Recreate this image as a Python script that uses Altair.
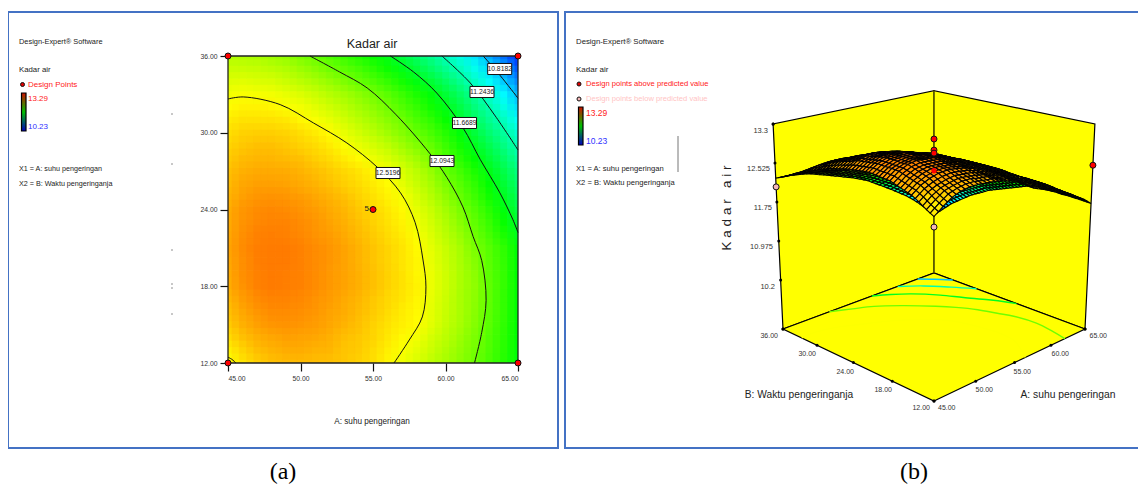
import altair as alt
import pandas as pd

# ---- values ----
A_VALUES = [45, 46, 47, 48, 49, 50, 51, 52, 53, 54, 55, 56, 57, 58, 59, 60, 61, 62, 63, 64, 65]
B_VALUES = [36, 35, 34, 33, 32, 31, 30, 29, 28, 27, 26, 25, 24, 23, 22, 21, 20, 19, 18, 17, 16, 15, 14, 13, 12]
KADAR = [
 [12.30,12.29,12.27,12.24,12.20,12.13,12.07,12.00,11.93,11.86,11.78,11.69,11.57,11.45,11.33,11.20,11.07,10.92,10.75,10.57,10.37],
 [12.36,12.36,12.35,12.32,12.29,12.23,12.17,12.10,12.04,11.97,11.89,11.80,11.69,11.58,11.46,11.33,11.20,11.05,10.88,10.71,10.51],
 [12.43,12.44,12.42,12.41,12.37,12.32,12.27,12.21,12.14,12.07,12.00,11.92,11.82,11.71,11.60,11.47,11.33,11.17,11.01,10.84,10.65],
 [12.49,12.51,12.50,12.49,12.46,12.42,12.37,12.31,12.25,12.18,12.11,12.03,11.94,11.84,11.73,11.60,11.46,11.30,11.14,10.98,10.79],
 [12.53,12.56,12.56,12.55,12.52,12.49,12.44,12.38,12.32,12.25,12.18,12.10,12.01,11.92,11.81,11.69,11.55,11.39,11.24,11.08,10.90],
 [12.58,12.61,12.61,12.61,12.59,12.55,12.51,12.46,12.39,12.32,12.25,12.17,12.09,11.99,11.90,11.78,11.64,11.49,11.33,11.19,11.01],
 [12.62,12.66,12.67,12.67,12.65,12.62,12.58,12.53,12.46,12.39,12.32,12.24,12.16,12.07,11.98,11.87,11.73,11.58,11.43,11.29,11.12],
 [12.65,12.69,12.71,12.71,12.69,12.66,12.63,12.58,12.52,12.46,12.40,12.33,12.24,12.15,12.06,11.94,11.81,11.67,11.52,11.37,11.21],
 [12.68,12.73,12.74,12.74,12.73,12.71,12.67,12.63,12.58,12.53,12.47,12.41,12.33,12.24,12.13,12.00,11.88,11.75,11.60,11.46,11.29],
 [12.71,12.76,12.78,12.78,12.77,12.75,12.72,12.68,12.64,12.60,12.55,12.50,12.41,12.32,12.21,12.07,11.96,11.84,11.69,11.54,11.38],
 [12.73,12.79,12.81,12.81,12.80,12.78,12.75,12.71,12.67,12.63,12.58,12.53,12.45,12.36,12.26,12.13,12.02,11.90,11.75,11.60,11.44],
 [12.75,12.81,12.84,12.85,12.84,12.82,12.79,12.75,12.71,12.66,12.61,12.56,12.50,12.41,12.31,12.19,12.07,11.95,11.81,11.66,11.50],
 [12.77,12.84,12.87,12.88,12.87,12.85,12.82,12.78,12.74,12.69,12.64,12.59,12.54,12.45,12.36,12.25,12.13,12.01,11.88,11.72,11.56],
 [12.78,12.85,12.88,12.89,12.89,12.87,12.84,12.80,12.76,12.71,12.66,12.61,12.56,12.48,12.39,12.29,12.17,12.05,11.93,11.78,11.62],
 [12.79,12.86,12.90,12.91,12.90,12.88,12.85,12.82,12.78,12.73,12.68,12.63,12.58,12.51,12.42,12.32,12.22,12.09,11.97,11.84,11.68],
 [12.80,12.87,12.91,12.92,12.92,12.90,12.87,12.84,12.80,12.75,12.70,12.65,12.60,12.54,12.45,12.36,12.26,12.13,12.02,11.90,11.74],
 [12.79,12.86,12.91,12.92,12.92,12.90,12.87,12.84,12.80,12.75,12.70,12.65,12.60,12.55,12.46,12.37,12.27,12.16,12.03,11.91,11.75],
 [12.78,12.86,12.90,12.92,12.91,12.90,12.87,12.83,12.80,12.76,12.71,12.66,12.61,12.55,12.47,12.38,12.28,12.18,12.04,11.92,11.76],
 [12.77,12.85,12.90,12.92,12.91,12.90,12.87,12.83,12.80,12.76,12.71,12.66,12.61,12.56,12.47,12.38,12.28,12.19,12.05,11.92,11.77],
 [12.74,12.82,12.87,12.89,12.89,12.88,12.85,12.82,12.78,12.74,12.69,12.64,12.60,12.55,12.46,12.37,12.27,12.18,12.05,11.91,11.77],
 [12.71,12.79,12.84,12.87,12.87,12.86,12.84,12.80,12.77,12.73,12.68,12.63,12.58,12.54,12.45,12.36,12.27,12.17,12.04,11.91,11.76],
 [12.68,12.76,12.81,12.84,12.85,12.84,12.82,12.79,12.75,12.71,12.66,12.61,12.57,12.53,12.44,12.35,12.26,12.16,12.03,11.90,11.76],
 [12.63,12.71,12.76,12.79,12.81,12.80,12.79,12.76,12.72,12.69,12.65,12.59,12.54,12.49,12.40,12.32,12.23,12.13,12.01,11.89,11.75],
 [12.57,12.65,12.72,12.75,12.77,12.77,12.75,12.74,12.70,12.68,12.63,12.57,12.51,12.45,12.37,12.29,12.20,12.11,12.00,11.88,11.74],
 [12.52,12.60,12.67,12.71,12.73,12.73,12.72,12.71,12.69,12.66,12.62,12.55,12.48,12.41,12.33,12.26,12.18,12.09,11.98,11.87,11.73],
]
CONTOURS = {
 12.5196: [(45,32.64),(46.05,32.8),(48.6,32.2),(50.9,30.76),(53.2,29.2),(55.3,27.3),(56.9,25.3),(57.9,23),(58.45,20.05),(58.65,17.95),(58.4,15.6),(57.5,13.8),(56.45,12)],
 12.0943: [(50.65,36),(52.7,34.75),(54.6,33.5),(56.6,31.4),(58.9,28.4),(60.1,26.5),(61.2,24.2),(61.9,21.9),(62.5,20),(62.8,16.9),(62.5,14.4),(62,12)],
 11.6689: [(56.2,36),(57.8,34.75),(59.4,33.1),(61.2,30.4),(62.4,27.9),(63.75,25.3),(64.65,23.2),(65,22.2)],
 11.2436: [(59.75,36),(61.7,33.9),(63.5,31.2),(65,28.65)],
 10.8182: [(62.6,36),(63.75,34.5),(65,32.7)],
}
CORNER_CONTOUR = [(45,12.45),(45.25,12.3),(45.55,12)]
DESIGN_A = [45, 65, 45, 65, 55]
DESIGN_B = [36, 36, 12, 12, 24]
DESIGN_3D_RED = [(65,12,12.48),(55,24,13.0),(55,24,12.78),(55,24,12.72)]
DESIGN_3D_SMALL = [(55,24,12.37)]
DESIGN_3D_PINK = [(45,36,12.05),(45,12,12.25)]
A_TICKS = [45, 50, 55, 60, 65]
B_TICKS = [12, 18, 24, 30, 36]
Z_TICKS = [10.2, 10.975, 11.75, 12.525, 13.3]
COLOR_STOPS = [10.23, 10.995, 11.76, 12.525, 13.29]
COLOR_NAMES = ["#0000ff", "#00ffff", "#00ff00", "#ffff00", "#ff0000"]

SANS = "Liberation Sans"
W, H = 1130, 477
PX = alt.Scale(domain=[8, 8 + W], range=[0, W])
PY = alt.Scale(domain=[8, 8 + H], range=[0, H])
SA = alt.Scale(domain=[45, 65], range=[220, 510], nice=False, zero=False)
SB = alt.Scale(domain=[12, 36], range=[355, 48], nice=False, zero=False)
COL = alt.Scale(domain=COLOR_STOPS, range=COLOR_NAMES, interpolate="rgb")
NOAX = None

# 3-D box view of the right-hand panel
Z_FLOOR, Z_TOP = 9.23, 13.3
def proj(a, b, z):
    u, v = (a - 45) / 20, (b - 12) / 24
    w = 1 + 0.143 * (u + v)
    h = z - Z_FLOOR
    return (934 + 172.6 * (u - v) / w * (1 + 0.0161 * h),
            401 - 82.3 * (u + v) / w - 57.6 * h / w)
def view_z(z):
    return z - 0.1 + (0.12 * (12.5 - z) if z < 12.5 else 0.6 * (z - 12.5))
def chart_xy(p):
    return [round(p[0] - 8, 2), round(p[1] - 8, 2)]
def ring_feature(ring, **props):
    return {"type": "Feature", "properties": props,
            "geometry": {"type": "Polygon", "coordinates": [ring + [ring[0]]]}}
def poly(corners, **props):
    return ring_feature([chart_xy(proj(*c)) for c in corners], **props)
def mid(p, q):
    return [round((p[0] + q[0]) / 2, 2), round((p[1] + q[1]) / 2, 2)]
def hatched(corners, **props):
    # one cell, one colour: its outline plus a cross of mesh lines on the drawn quad
    p = [chart_xy(proj(*c)) for c in corners]
    m01, m12, m23, m30 = mid(p[0], p[1]), mid(p[1], p[2]), mid(p[2], p[3]), mid(p[3], p[0])
    c = mid(m01, m23)
    return [ring_feature([p[0], m01, c, m30], **props), ring_feature([m01, p[1], m12, c], **props),
            ring_feature([m30, c, m23, p[3]], **props), ring_feature([c, m12, p[2], m23], **props)]

GEO = alt.Projection(type="identity", scale=1, translate=[0, 0])
layers = []

def px_x(f="x"): return alt.X(f"{f}:Q", scale=PX, axis=NOAX)
def px_y(f="y"): return alt.Y(f"{f}:Q", scale=PY, axis=NOAX)

# ---- frames ----
FRAMES = pd.DataFrame({"x": [8, 565], "x2": [558, 1150], "y": [12, 12], "y2": [448, 448]})
layers.append(alt.Chart(FRAMES).mark_rect(fill=None, stroke="#4472c4", strokeWidth=2).encode(
    x=px_x(), x2="x2:Q", y=px_y(), y2="y2:Q"))

# ---- left panel: heat map, four half-transparent passes of the same cells ----
PASSES = [(-0.25, -0.25, 1.0), (0.25, 0.25, 0.5), (-0.25, 0.25, 0.34), (0.25, -0.25, 0.25)]
for n, (dx, dy, op) in enumerate(PASSES):
    rows = []
    for j, b in enumerate(B_VALUES):
        for i, a in enumerate(A_VALUES):
            rows.append({"a0": max(a - 0.5 + dx, 45), "a1": min(a + 0.53 + dx, 65),
                         "b0": max(b - 0.53 + dy, 12), "b1": min(b + 0.5 + dy, 36), "z": KADAR[j][i]})
    ax_x = alt.Axis(values=A_TICKS, format=".2f", title=None, grid=False, domain=False,
                    tickSize=8, tickColor="#111", tickWidth=1.2, labelFont=SANS, labelFontSize=6.8, labelColor="#333",
                    labelPadding=4, offset=355 - H, orient="bottom") if n == 0 else None
    ax_y = alt.Axis(values=B_TICKS, format=".2f", title=None, grid=False, domain=False,
                    tickSize=8, tickColor="#111", tickWidth=1.2, labelFont=SANS, labelFontSize=6.8, labelColor="#333",
                    labelPadding=3, offset=-220, orient="left") if n == 0 else None
    layers.append(alt.Chart(pd.DataFrame(rows)).mark_rect(opacity=op).encode(
        x=alt.X("a0:Q", scale=SA, axis=ax_x), x2="a1:Q",
        y=alt.Y("b0:Q", scale=SB, axis=ax_y), y2="b1:Q",
        color=alt.Color("z:Q", scale=COL, legend=None)))

# plot border
BORDER = pd.DataFrame({"a": [45], "a2": [65], "b": [12], "b2": [36]})
layers.append(alt.Chart(BORDER).mark_rect(fill=None, stroke="#222", strokeWidth=1.3).encode(
    x=alt.X("a:Q", scale=SA, axis=NOAX), x2="a2:Q", y=alt.Y("b:Q", scale=SB, axis=NOAX), y2="b2:Q"))

# contour lines
clines = []
for lev, pts in CONTOURS.items():
    for k, (a, b) in enumerate(pts):
        clines.append({"a": a, "b": b, "lev": lev, "k": k})
for k, (a, b) in enumerate(CORNER_CONTOUR):
    clines.append({"a": a, "b": b, "lev": 12.52, "k": k})
layers.append(alt.Chart(pd.DataFrame(clines)).mark_line(color="#111", strokeWidth=1, interpolate="catmull-rom").encode(
    x=alt.X("a:Q", scale=SA, axis=NOAX), y=alt.Y("b:Q", scale=SB, axis=NOAX), detail="lev:N", order="k:Q"))

# contour labels
LABEL_TEXT = ["12.5196", "12.0943", "11.6689", "11.2436", "10.8182"]
LABEL_X = [388, 442, 464.5, 482, 499.7]
LABEL_Y = [173, 161, 123, 92, 69]
lab = pd.DataFrame({"t": LABEL_TEXT, "x": LABEL_X, "y": LABEL_Y})
layers.append(alt.Chart(lab).mark_point(shape="M-1,-0.46H1V0.46H-1Z", size=576, filled=True, fill="white",
                                        stroke="#111", strokeWidth=1, opacity=1).encode(x=px_x(), y=px_y()))
layers.append(alt.Chart(lab).mark_text(font=SANS, fontSize=6.8, color="#222").encode(x=px_x(), y=px_y(), text="t:N"))

# design points
layers.append(alt.Chart(pd.DataFrame({"a": DESIGN_A, "b": DESIGN_B})).mark_point(
    filled=True, fill="#ff0000", stroke="#111", strokeWidth=1, size=36, opacity=1, clip=False).encode(
    x=alt.X("a:Q", scale=SA, axis=NOAX), y=alt.Y("b:Q", scale=SB, axis=NOAX)))

# stray specks
SPECK_X = [172, 172, 172, 172, 172, 172]
SPECK_Y = [114, 164, 250, 284, 288, 314]
layers.append(alt.Chart(pd.DataFrame({"x": SPECK_X, "y": SPECK_Y})).mark_point(
    filled=True, color="#444", size=2, opacity=0.8).encode(x=px_x(), y=px_y()))

# ---- right panel: box ----
box = [
    poly([(45, 36, Z_FLOOR), (45, 36, Z_TOP), (65, 36, Z_TOP), (65, 36, Z_FLOOR)]),
    poly([(65, 12, Z_FLOOR), (65, 12, Z_TOP), (65, 36, Z_TOP), (65, 36, Z_FLOOR)]),
    poly([(45, 12, Z_FLOOR), (65, 12, Z_FLOOR), (65, 36, Z_FLOOR), (45, 36, Z_FLOOR)]),
]
layers.append(alt.Chart(alt.Data(values=box)).mark_geoshape(fill="#ffff00", stroke="#000", strokeWidth=1.2).project(**GEO.to_dict()))

# back edge
be = [{"x": p[0], "y": p[1], "k": i} for i, p in enumerate([proj(65, 36, Z_FLOOR), proj(65, 36, Z_TOP)])]
layers.append(alt.Chart(pd.DataFrame(be)).mark_line(color="#7f7f00", strokeWidth=1.2).encode(x=px_x(), y=px_y(), order="k:Q"))

# floor contours
fl = []
for lev, pts in CONTOURS.items():
    for k, (a, b) in enumerate(pts):
        x, y = proj(a, b, Z_FLOOR)
        fl.append({"x": x, "y": y, "lev": lev, "k": k})
layers.append(alt.Chart(pd.DataFrame(fl)).mark_line(strokeWidth=1.4, interpolate="catmull-rom").encode(
    x=px_x(), y=px_y(), detail="lev:N", order="k:Q",
    color=alt.Color("lev:Q", scale=COL, legend=None)))

# surface, painted back to front
cells = []
for j in range(len(B_VALUES) - 1):
    for i in range(len(A_VALUES) - 1):
        a0, a1, b0, b1 = A_VALUES[i], A_VALUES[i + 1], B_VALUES[j], B_VALUES[j + 1]
        zq = [KADAR[j][i], KADAR[j][i + 1], KADAR[j + 1][i + 1], KADAR[j + 1][i]]
        q = [(a0, b0, view_z(zq[0])), (a1, b0, view_z(zq[1])), (a1, b1, view_z(zq[2])), (a0, b1, view_z(zq[3]))]
        cells.append(((a0 + a1) / 40 + (b0 + b1) / 48, hatched(q, z=round(sum(zq) / 4, 3))))
cells.sort(key=lambda t: -t[0])
layers.append(alt.Chart(alt.Data(values=[f for c in cells for f in c[1]])).mark_geoshape(stroke="#000", strokeWidth=1.1).encode(
    color=alt.Color("properties.z:Q", scale=COL, legend=None)).project(**GEO.to_dict()))

# design points in 3-D
def pts3(lst):
    return pd.DataFrame([{"x": proj(*p)[0], "y": proj(*p)[1]} for p in lst])
layers.append(alt.Chart(pts3(DESIGN_3D_SMALL)).mark_point(filled=True, color="#ff0000", size=28, opacity=1).encode(x=px_x(), y=px_y()))
layers.append(alt.Chart(pts3(DESIGN_3D_RED)).mark_point(filled=True, fill="#ff0000", stroke="#111", strokeWidth=1, size=36, opacity=1).encode(x=px_x(), y=px_y()))
layers.append(alt.Chart(pts3(DESIGN_3D_PINK)).mark_point(filled=True, fill="#f4b8b8", stroke="#111", strokeWidth=1, size=36, opacity=1).encode(x=px_x(), y=px_y()))

# tick dots on the box
dots = [(a, 12, Z_FLOOR) for a in A_TICKS] + [(45, b, Z_FLOOR) for b in B_TICKS] + [(45, 36, z) for z in Z_TICKS] + [(45, 36, Z_FLOOR), (65, 12, Z_FLOOR), (45, 36, Z_TOP)]
layers.append(alt.Chart(pts3(dots)).mark_point(filled=True, color="#000", size=9, opacity=1).encode(x=px_x(), y=px_y()))

# stray rule by the right legend
layers.append(alt.Chart(pd.DataFrame({"x": [678], "y": [136], "y2": [172]})).mark_rule(color="#777", strokeWidth=1).encode(
    x=px_x(), y=px_y(), y2="y2:Q"))

# ---- legend bars and markers ----
BAR = pd.DataFrame({"x": [21.5, 578.5], "x2": [26, 583], "y": [93, 107], "y2": [131, 145]})
grad = alt.Gradient(gradient="linear", x1=0, x2=0, y1=0, y2=1, stops=[
    alt.GradientStop(offset=0, color="#d01000"), alt.GradientStop(offset=0.5, color="#00c000"),
    alt.GradientStop(offset=1, color="#0000c0")])
layers.append(alt.Chart(BAR).mark_rect(color=grad, stroke="#000", strokeWidth=1.2).encode(
    x=px_x(), x2="x2:Q", y=px_y(), y2="y2:Q"))
layers.append(alt.Chart(pd.DataFrame({"x": [22.5, 579], "y": [84.5, 84]})).mark_point(
    filled=True, fill="#e00000", stroke="#111", strokeWidth=1, size=16, opacity=1).encode(x=px_x(), y=px_y()))
layers.append(alt.Chart(pd.DataFrame({"x": [579], "y": [99]})).mark_point(
    filled=True, fill="#f4b8b8", stroke="#111", strokeWidth=1, size=16, opacity=1).encode(x=px_x(), y=px_y()))

# ---- text ----
def text_layer(rows, align="left", font=SANS, angle=0):
    d = pd.DataFrame(rows, columns=["t", "x", "y", "size", "c"])
    m = alt.Chart(d).mark_text(align=align, baseline="middle", font=font, angle=angle).encode(
        x=px_x(), y=px_y(), text="t:N",
        size=alt.Size("size:Q", scale=None, legend=None),
        color=alt.Color("c:N", scale=None, legend=None))
    return m

DK = "#222"
layers.append(text_layer([
    ("Design-Expert® Software", 19, 42, 7.4, DK), ("Kadar air", 19, 70, 7.8, DK),
    ("Design Points", 28, 85, 8, "#ff2020"), ("13.29", 28, 99, 8, "#ff2020"), ("10.23", 28, 127, 8, "#3030ff"),
    ("X1 = A: suhu pengeringan", 19, 169, 7.2, DK), ("X2 = B: Waktu pengeringanja", 19, 184, 7.2, DK),
    ("Design-Expert® Software", 576, 42, 7.8, DK), ("Kadar air", 576, 70, 8, DK),
    ("Design points above predicted value", 586, 84, 7.6, "#ff2020"),
    ("Design points below predicted value", 586, 99, 7.6, "#ffc4c4"),
    ("13.29", 586, 113, 8.5, "#ff2020"), ("10.23", 586, 141, 8.5, "#3030ff"),
    ("X1 = A: suhu pengeringan", 576, 169, 7.6, DK), ("X2 = B: Waktu pengeringanja", 576, 183, 7.6, DK),
    ("45.00", 938, 408, 7, "#333"), ("50.00", 975.5, 390, 7, "#333"), ("55.00", 1013.5, 372, 7, "#333"),
    ("60.00", 1051.5, 354, 7, "#333"), ("65.00", 1089.5, 336, 7, "#333"),
]))
layers.append(text_layer([
    ("12.00", 930, 408, 7, "#333"), ("18.00", 892, 390, 7, "#333"), ("24.00", 854, 372, 7, "#333"),
    ("30.00", 816, 354, 7, "#333"), ("36.00", 778, 336, 7, "#333"),
    ("13.3", 768, 131, 7.5, "#333"), ("12.525", 770, 169, 7.5, "#333"), ("11.75", 772, 208, 7.5, "#333"),
    ("10.975", 773, 247, 7.5, "#333"), ("10.2", 775, 287, 7.5, "#333"),
    ("5", 369, 209, 8, DK),
], align="right"))
layers.append(text_layer([
    ("Kadar air", 372, 44, 12.5, DK), ("A: suhu pengeringan", 372, 422, 8.2, DK),
    ("B: Waktu pengeringanja", 799, 395, 10.2, DK), ("A: suhu pengeringan", 1068, 395, 10.3, DK),
], align="center"))
layers.append(text_layer([("(a)", 283, 472, 24, "#000"), ("(b)", 914, 472, 24, "#000")],
                         align="center", font="Liberation Serif"))
layers.append(text_layer([("K a d a r\u00a0\u00a0\u00a0a i r", 727, 208, 13.5, DK)], align="center", font=SANS, angle=270))

chart = alt.layer(*layers).resolve_scale(x="independent", y="independent", color="shared", size="independent").resolve_axis(
    x="independent", y="independent").properties(
    width=W, height=H, padding=0, autosize=alt.AutoSizeParams(type="none"),
    background="white").configure_view(stroke=None)

chart.save("out.html", embed_options={"renderer": "svg", "actions": False})
